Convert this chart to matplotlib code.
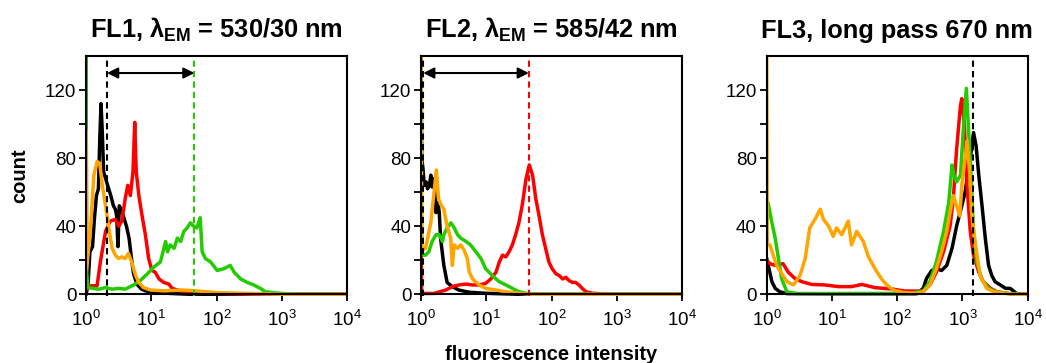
import matplotlib.pyplot as plt
import numpy as np

plt.rcParams['font.family'] = ['Liberation Sans', 'DejaVu Sans']
plt.rcParams['mathtext.fontset'] = 'custom'
plt.rcParams['mathtext.rm'] = 'Liberation Sans'
plt.rcParams['mathtext.bf'] = 'Liberation Sans:bold'
plt.rcParams['mathtext.it'] = 'Liberation Sans:italic'

# histogram curves: (log10 intensity, count)
fl1_black = [(0.0, 0), (0.03, 5), (0.06, 25), (0.1, 28), (0.13, 45), (0.16, 58), (0.19, 62),
             (0.21, 90), (0.23, 112), (0.25, 95), (0.27, 72), (0.30, 68), (0.34, 63), (0.38, 58),
             (0.42, 52), (0.45, 50), (0.47, 46), (0.49, 28), (0.51, 52), (0.54, 50), (0.58, 45),
             (0.62, 40), (0.66, 33), (0.70, 20), (0.73, 12), (0.78, 6), (0.85, 3), (0.95, 1.5),
             (1.1, 1), (1.3, 0.5), (1.6, 0), (4.0, 0)]
fl1_red = [(0.0, 150), (0.01, 3), (0.07, 5), (0.17, 5), (0.22, 19), (0.30, 37), (0.37, 43),
           (0.45, 44), (0.50, 40), (0.55, 43), (0.60, 56), (0.64, 64), (0.68, 58), (0.72, 72),
           (0.747, 101), (0.77, 72), (0.81, 58), (0.86, 46), (0.91, 35), (0.96, 21), (1.01, 14),
           (1.06, 13), (1.12, 9), (1.19, 7), (1.27, 6), (1.32, 3.5), (1.40, 2.5), (1.6, 1),
           (2.0, 0.5), (2.5, 0), (4.0, 0)]
fl1_green = [(0.0, 150), (0.01, 12), (0.03, 4), (0.1, 3.5), (0.2, 3), (0.3, 4), (0.4, 3),
             (0.5, 3.5), (0.6, 3), (0.73, 5.5), (0.83, 8), (0.94, 12), (1.04, 16), (1.14, 19),
             (1.22, 31), (1.25, 25), (1.29, 29), (1.35, 27), (1.40, 33), (1.45, 31), (1.50, 37),
             (1.55, 39), (1.60, 42), (1.65, 40), (1.70, 39), (1.75, 45), (1.78, 25), (1.83, 21),
             (1.91, 19), (2.01, 14), (2.11, 15), (2.21, 17), (2.27, 13), (2.37, 9), (2.47, 7),
             (2.57, 5.5), (2.67, 3.5), (2.75, 1.5), (3.0, 0.5), (3.3, 0), (4.0, 0)]
fl1_orange = [(0.0, 96), (0.01, 15), (0.07, 39), (0.12, 70), (0.17, 78), (0.21, 77), (0.25, 64),
              (0.30, 52), (0.35, 39), (0.40, 27), (0.45, 23), (0.50, 21), (0.55, 22), (0.60, 21),
              (0.65, 24), (0.70, 19), (0.76, 11), (0.81, 7), (0.88, 4), (0.99, 2.5), (1.2, 2),
              (1.5, 2.5), (1.7, 2), (2.0, 1), (2.5, 0.5), (3.0, 0), (4.0, 0)]

fl2_black = [(0.0, 150), (0.01, 80), (0.03, 74), (0.05, 64), (0.08, 66), (0.10, 62), (0.13, 64),
             (0.15, 70), (0.17, 63), (0.20, 68), (0.23, 48), (0.26, 54), (0.28, 48), (0.30, 33),
             (0.35, 17), (0.40, 7), (0.48, 4.5), (0.58, 2.5), (0.74, 1.2), (0.99, 0.6),
             (1.25, 0.3), (1.5, 0), (4.0, 0)]
fl2_red = [(0.0, 46), (0.01, 0.5), (0.2, 0.5), (0.38, 2.5), (0.48, 4.5), (0.58, 5.5), (0.69, 6),
           (0.79, 5.5), (0.89, 5.5), (0.99, 6.4), (1.07, 9), (1.15, 13), (1.20, 19), (1.25, 23),
           (1.30, 22), (1.35, 25), (1.40, 29), (1.45, 35), (1.50, 42), (1.55, 52), (1.61, 68),
           (1.66, 76), (1.71, 70), (1.76, 56), (1.81, 46), (1.86, 35), (1.91, 27), (1.96, 19),
           (2.01, 15), (2.07, 12), (2.12, 11), (2.17, 9), (2.22, 10), (2.27, 8), (2.32, 7),
           (2.37, 7), (2.42, 5.5), (2.47, 3.5), (2.53, 1.5), (2.63, 0.6), (2.9, 0), (4.0, 0)]
fl2_green = [(0.0, 150), (0.01, 25), (0.04, 23), (0.07, 23), (0.12, 25), (0.17, 31), (0.23, 35),
             (0.28, 35), (0.33, 31), (0.35, 35), (0.40, 39), (0.46, 42), (0.51, 39), (0.56, 35),
             (0.61, 33), (0.69, 31), (0.76, 29), (0.84, 25), (0.92, 21), (0.99, 15), (1.07, 12),
             (1.12, 10), (1.20, 7.4), (1.30, 5.5), (1.40, 3.5), (1.50, 1.5), (1.61, 0.6),
             (1.8, 0), (4.0, 0)]
fl2_orange = [(0.0, 150), (0.01, 25), (0.05, 27), (0.07, 27), (0.15, 42), (0.20, 60), (0.235, 73),
              (0.27, 56), (0.30, 53), (0.35, 50), (0.40, 40), (0.455, 33), (0.48, 17), (0.51, 29),
              (0.56, 27), (0.61, 29), (0.66, 26), (0.71, 21), (0.74, 13), (0.79, 9), (0.89, 5.5),
              (0.99, 3.5), (1.15, 2.5), (1.30, 1.5), (1.50, 0.6), (1.7, 0), (4.0, 0)]

fl3_black = [(0.0, 21), (0.08, 7.4), (0.13, 3.5), (0.2, 1.5), (0.31, 0.4), (1.0, 0.3), (2.3, 0.3),
             (2.40, 3.5), (2.45, 9.4), (2.53, 14), (2.60, 15), (2.68, 14), (2.76, 17), (2.84, 27),
             (2.91, 40), (2.99, 52), (3.04, 60), (3.08, 70), (3.12, 80), (3.17, 95), (3.21, 87),
             (3.25, 70), (3.30, 52), (3.35, 33), (3.40, 17), (3.45, 11), (3.50, 7.4), (3.58, 5.5),
             (3.66, 3.5), (3.73, 3.5), (3.78, 2), (3.83, 0.4), (3.9, 0), (4.0, 0)]
fl3_red = [(0.0, 20), (0.05, 18), (0.13, 17), (0.25, 18), (0.33, 13), (0.43, 9.4), (0.54, 7.4),
           (0.69, 5.8), (0.89, 5.5), (1.1, 4.5), (1.3, 4.5), (1.46, 5.8), (1.66, 3.9), (1.92, 3.1),
           (2.12, 1.9), (2.33, 1.9), (2.40, 2), (2.50, 5.5), (2.60, 13), (2.71, 25), (2.81, 40),
           (2.86, 56), (2.91, 85), (2.97, 111), (2.99, 115), (3.03, 99), (3.07, 64), (3.12, 37),
           (3.17, 23), (3.25, 13), (3.32, 7.4), (3.43, 3.5), (3.53, 1.5), (3.68, 0.6), (3.8, 0),
           (4.0, 0)]
fl3_green = [(0.0, 54), (0.02, 54), (0.08, 42), (0.13, 33), (0.18, 21), (0.23, 9), (0.31, 1.5),
             (0.46, 0.4), (1.5, 0.5), (2.2, 0.5), (2.40, 2), (2.50, 7.4), (2.60, 19), (2.71, 37),
             (2.79, 54), (2.84, 76), (2.87, 70), (2.91, 66), (2.97, 70), (3.01, 95), (3.06, 121),
             (3.09, 99), (3.13, 72), (3.17, 37), (3.22, 19), (3.30, 8.4), (3.40, 3.5),
             (3.53, 1.2), (3.73, 0.4), (3.9, 0), (4.0, 0)]
fl3_orange = [(0.0, 150), (0.01, 29), (0.05, 29), (0.15, 17), (0.31, 7.4), (0.41, 5.5), (0.51, 11),
              (0.59, 21), (0.66, 39), (0.74, 44), (0.82, 50), (0.87, 44), (0.95, 40), (1.02, 34),
              (1.07, 39), (1.15, 35), (1.25, 43), (1.30, 29), (1.38, 37), (1.48, 31), (1.56, 22),
              (1.66, 15), (1.76, 9), (1.84, 5.5), (1.94, 2.5), (2.1, 1), (2.3, 0.6), (2.4, 1.5),
              (2.50, 5.5), (2.60, 15), (2.68, 25), (2.76, 37), (2.81, 48), (2.86, 58), (2.91, 52),
              (2.96, 46), (2.99, 64), (3.04, 80), (3.07, 90), (3.11, 72), (3.14, 48), (3.20, 29),
              (3.27, 11), (3.37, 3.5), (3.48, 1.5), (3.63, 0.6), (3.8, 0), (4.0, 0)]

titles = [r"FL1, λ$_{\mathbf{EM}}$ = 530/30 nm",
          r"FL2, λ$_{\mathbf{EM}}$ = 585/42 nm",
          "FL3, long pass 670 nm"]
# dashed guide lines (intensity, colour) and arrows (start, end, count)
guides = [[(2.1, 'black'), (46, '#22cc00')],
          [(1.08, 'black'), (45, '#ff0000')],
          [(1445, 'black')]]
arrows = [(2.1, 46, 130), (1.08, 45, 130), None]

colors = ['black', '#ff0000', '#22cc00', '#ffa500']
panels = [[fl1_black, fl1_red, fl1_green, fl1_orange],
          [fl2_black, fl2_red, fl2_green, fl2_orange],
          [fl3_black, fl3_red, fl3_green, fl3_orange]]

fig = plt.figure(figsize=(10.46, 3.63), dpi=100)
lefts = [86 / 1046, 421 / 1046, 766.7 / 1046]
for i in range(3):
    ax = fig.add_axes([lefts[i], 67 / 363, 261 / 1046, 240 / 363])
    for curve, c in zip(panels[i], colors):
        d, n = zip(*curve)
        ax.plot(10 ** np.array(d), n, color=c, lw=2.5, solid_joinstyle='round')
    for xv, c in guides[i]:
        ax.axvline(xv, color=c, lw=1.5, ls=(0, (3, 2)))
    if arrows[i]:
        x1, x2, yv = arrows[i]
        ax.annotate('', xy=(x2, yv), xytext=(x1, yv),
                    arrowprops=dict(arrowstyle='<|-|>', color='black', lw=1.5,
                                    mutation_scale=16, shrinkA=0, shrinkB=0))
    ax.set_xscale('log')
    ax.set_xlim(1, 1e4)
    ax.set_ylim(-1, 140)
    ax.spines['bottom'].set_position(('data', 0))
    for s in ax.spines.values():
        s.set_linewidth(1.5)
    ax.set_xticks([1, 10, 100, 1000, 10000])
    ax.xaxis.set_minor_locator(plt.NullLocator())
    ax.set_yticks([0, 40, 80, 120])
    ax.set_yticks([20, 60, 100], minor=True)
    ax.tick_params(axis='both', which='both', direction='out', length=5, width=1.3,
                   labelsize=13.5)
    ax.tick_params(axis='y', pad=2)
    ax.tick_params(axis='x', pad=6)
    ax.set_title(titles[i], fontsize=18.3, fontweight='bold', pad=13)
    if i == 0:
        ax.set_ylabel('count', fontsize=14.5, fontweight='bold', labelpad=11)
    if i == 1:
        ax.set_xlabel('fluorescence intensity', fontsize=14.5, fontweight='bold', labelpad=11)

plt.savefig('out.png', dpi=100)
